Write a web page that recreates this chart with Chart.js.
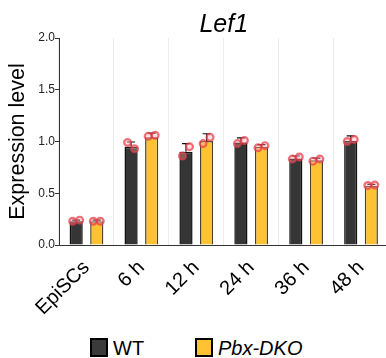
<!DOCTYPE html>
<html>
<head>
<meta charset="utf-8">
<script src="https://cdn.jsdelivr.net/npm/chart.js@4.4.1/dist/chart.umd.min.js"></script>
<style>
  html, body { margin: 0; padding: 0; background: #fff; overflow: hidden; width: 386px; height: 358px; }
  #wrap { position: absolute; left: 0; top: 0; width: 389px; height: 330px; }
  .lg-box { position: absolute; top: 338px; width: 18px; height: 19px; box-sizing: border-box; border: 2px solid #000; }
  .lg-txt { position: absolute; top: 338px; font: 20px/20px "Liberation Sans", Arial, sans-serif; color: #000; white-space: nowrap; }
</style>
</head>
<body>
<div id="wrap"><canvas id="c"></canvas></div>
<div class="lg-box" style="left:90px;background:#3a3a3a;"></div>
<div class="lg-txt" style="left:113px;">WT</div>
<div class="lg-box" style="left:195px;background:#FFC233;"></div>
<div class="lg-txt" style="left:218px;font-style:italic;">Pbx-DKO</div>
<script>
const categories = ["EpiSCs", "6 h", "12 h", "24 h", "36 h", "48 h"];
const seriesNames = ["WT", "Pbx-DKO"];
const wtMean = [0.23, 0.95, 0.90, 0.99, 0.835, 1.005];
const wtSD = [0.01, 0.045, 0.08, 0.045, 0.025, 0.05];
const wtPoints = [[0.23, 0.24], [0.99, 0.93], [0.86, 0.95], [0.98, 1.01], [0.83, 0.85], [1.00, 1.02]];
const dkoMean = [0.23, 1.04, 1.005, 0.95, 0.82, 0.57];
const dkoSD = [0.01, 0.04, 0.07, 0.02, 0.02, 0.015];
const dkoPoints = [[0.23, 0.23], [1.05, 1.06], [0.98, 1.04], [0.94, 0.96], [0.81, 0.83], [0.575, 0.58]];
const yTicks = [0, 0.5, 1.0, 1.5, 2.0];
const titleText = "Lef1";
const yTitle = "Expression level";

const FONT = '"Liberation Sans", Arial, sans-serif';
const sdList = [wtSD, dkoSD];
const ptsList = [wtPoints, dkoPoints];

const overlay = {
  id: 'overlay',
  afterDatasetsDraw(chart) {
    const ctx = chart.ctx;
    const y = chart.scales.y;
    ctx.save();
    ctx.strokeStyle = '#111';
    ctx.lineWidth = 1.2;
    chart.data.datasets.forEach((ds, i) => {
      const meta = chart.getDatasetMeta(i);
      meta.data.forEach((bar, j) => {
        const top = y.getPixelForValue(ds.data[j] + sdList[i][j]);
        ctx.beginPath();
        ctx.moveTo(bar.x, bar.y);
        ctx.lineTo(bar.x, top);
        ctx.moveTo(bar.x - 4, top);
        ctx.lineTo(bar.x + 4, top);
        ctx.stroke();
      });
    });
    ctx.lineWidth = 2.2;
    ctx.strokeStyle = 'rgba(232,60,72,0.72)';
    ctx.fillStyle = 'rgba(255,170,175,0.35)';
    chart.data.datasets.forEach((ds, i) => {
      const meta = chart.getDatasetMeta(i);
      meta.data.forEach((bar, j) => {
        ptsList[i][j].forEach((v, k) => {
          const px = bar.x + (k === 0 ? -3.5 : 3.5);
          const py = y.getPixelForValue(v);
          ctx.beginPath();
          ctx.arc(px, py, 3.4, 0, Math.PI * 2);
          ctx.fill();
          ctx.stroke();
        });
      });
    });
    ctx.restore();
  },
  afterDraw(chart) {
    const ctx = chart.ctx;
    const a = chart.chartArea;
    ctx.save();
    ctx.font = 'italic 25px ' + FONT;
    ctx.fillStyle = '#000';
    ctx.textAlign = 'center';
    ctx.textBaseline = 'alphabetic';
    ctx.fillText(titleText, (a.left + a.right) / 2, 32);
    ctx.restore();
  }
};

new Chart(document.getElementById('c'), {
  type: 'bar',
  data: {
    labels: categories,
    datasets: [
      { label: seriesNames[0], data: wtMean, backgroundColor: '#353535', borderColor: '#111', borderWidth: 1.5,
        categoryPercentage: 0.75, barPercentage: 0.64 },
      { label: seriesNames[1], data: dkoMean, backgroundColor: '#FFC233', borderColor: '#4a4232', borderWidth: 1.5,
        categoryPercentage: 0.75, barPercentage: 0.64 }
    ]
  },
  options: {
    responsive: true,
    maintainAspectRatio: false,
    animation: false,
    layout: { padding: { top: 38, left: 0, right: 0, bottom: 0 } },
    plugins: { legend: { display: false }, title: { display: false }, tooltip: { enabled: false } },
    scales: {
      x: {
        grid: { offset: true, color: '#ececec', lineWidth: 1, drawTicks: false },
        border: { color: '#333', width: 1 },
        ticks: { font: { family: FONT, size: 20 }, color: '#000', minRotation: 45, maxRotation: 45, padding: 11 },
        afterFit(s) { s.height = 85; }
      },
      y: {
        min: 0, max: 2,
        afterBuildTicks(s) { s.ticks = yTicks.map(v => ({ value: v })); },
        ticks: { font: { family: FONT, size: 12 }, color: '#222', padding: 0, callback: v => Number(v).toFixed(1) },
        grid: { drawOnChartArea: false, drawTicks: true, tickLength: 4, color: '#333' },
        border: { color: '#333', width: 1 },
        title: { display: true, text: yTitle, font: { family: FONT, size: 21.5 }, color: '#000', padding: { top: 5, bottom: 0 } },
        afterFit(s) { s.width = 59; }
      }
    }
  },
  plugins: [overlay]
});
</script>
</body>
</html>
